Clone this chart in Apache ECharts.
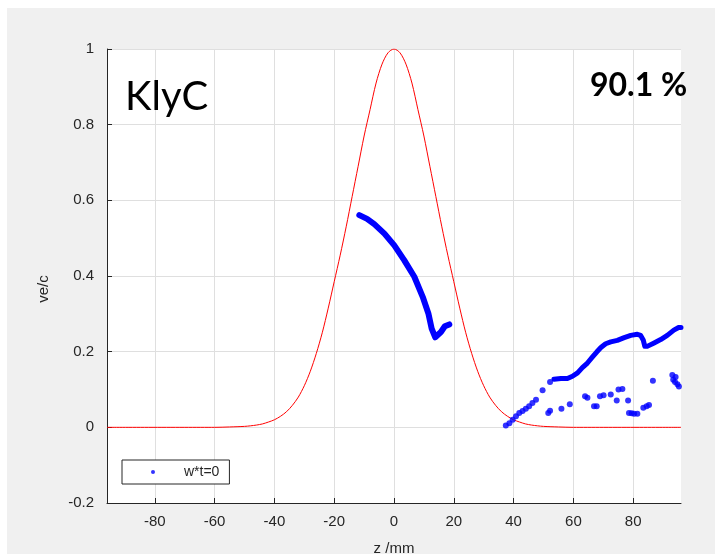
<!DOCTYPE html>
<html>
<head>
<meta charset="utf-8">
<script src="https://cdn.jsdelivr.net/npm/echarts@6/dist/echarts.min.js"></script>
<style>
  html, body { margin: 0; padding: 0; background: #ffffff; }
  #figure { position: absolute; left: 7px; top: 8px; width: 708px; height: 546px; background: #f0f0f0; }
  #chart { position: absolute; left: 0; top: 0; width: 715px; height: 554px; }
</style>
</head>
<body>
<div id="figure"></div>
<div id="chart"></div>
<script>
// Axial field profile (normalised), z in mm
const profileZ = [-96, -60, -55, -50, -48, -46, -44, -42, -40, -38, -36, -34, -32, -30, -28, -26, -24, -22, -20, -18, -16, -14, -12, -10, -8, -6, -4, -2, 0,
                  2, 4, 6, 8, 10, 12, 14, 16, 18, 20, 22, 24, 26, 28, 30, 32, 34, 36, 38, 40, 42, 44, 46, 48, 50, 55, 60, 96];
const profileVal = [0, 0, 0.001, 0.0025, 0.004, 0.006, 0.009, 0.014, 0.020, 0.029, 0.041, 0.058, 0.080, 0.110, 0.148, 0.195, 0.250, 0.315, 0.385, 0.455, 0.530, 0.610, 0.690, 0.770, 0.840, 0.910, 0.960, 0.990, 1.0,
                    0.990, 0.960, 0.910, 0.840, 0.770, 0.690, 0.610, 0.530, 0.455, 0.385, 0.315, 0.250, 0.195, 0.148, 0.110, 0.080, 0.058, 0.041, 0.029, 0.020, 0.014, 0.009, 0.006, 0.004, 0.0025, 0.001, 0, 0];

// Electron velocity ve/c at w*t = 0: dense trace inside the gap
const coreZ = [-11.6, -9.0, -6.6, -3.2, 0.1, 3.4, 6.8, 9.6, 11.5, 12.6, 13.8, 15.7, 17.0, 18.5];
const coreV = [0.561, 0.551, 0.537, 0.512, 0.481, 0.442, 0.398, 0.345, 0.301, 0.261, 0.238, 0.252, 0.267, 0.272];

// Dense trace downstream
const tailZ = [53.5, 55.8, 58.0, 59.7, 61.4, 63.0, 64.7, 66.4, 67.8, 69.2, 70.8, 72.5, 74.7, 77.0, 79.2, 81.4, 82.5, 83.4, 83.9, 84.7, 87.0, 89.2, 91.4, 93.6, 95.2, 96.0];
const tailV = [0.127, 0.129, 0.129, 0.135, 0.144, 0.158, 0.170, 0.186, 0.199, 0.211, 0.221, 0.226, 0.230, 0.237, 0.243, 0.246, 0.243, 0.230, 0.214, 0.214, 0.223, 0.232, 0.243, 0.257, 0.264, 0.264];

// Individual macro-particles downstream
const dotZ = [37.4, 38.6, 39.7, 40.8, 41.9, 43.0, 44.1, 45.2, 46.3, 47.5, 49.7, 52.2,
              51.6, 52.2, 56.0, 58.8, 63.9, 64.7, 66.9, 67.8, 68.9, 70.1, 72.5, 74.5, 75.1, 76.4, 78.3,
              78.6, 79.5, 80.3, 81.4, 83.4, 84.5, 85.3, 86.6, 93.1, 93.4, 94.0, 94.8, 95.3, 94.2];
const dotV = [0.005, 0.011, 0.020, 0.029, 0.038, 0.043, 0.049, 0.056, 0.064, 0.073, 0.098, 0.120,
              0.038, 0.044, 0.049, 0.061, 0.082, 0.078, 0.056, 0.056, 0.082, 0.085, 0.087, 0.071, 0.100, 0.101, 0.071,
              0.038, 0.037, 0.036, 0.036, 0.052, 0.056, 0.059, 0.123, 0.138, 0.126, 0.120, 0.114, 0.108, 0.133];

const xTicks = [-80, -60, -40, -20, 0, 20, 40, 60, 80];
const seriesName = 'w*t=0';
const tagText = 'KlyC';
const effText = '90.1 %';

const pairs = (xs, ys) => xs.map((x, i) => [x, ys[i]]);
const ink = '#262626';
const gridCol = '#dfdfdf';
const sans = '"Liberation Sans", Arial, sans-serif';

const chart = echarts.init(document.getElementById('chart'), null, { renderer: 'canvas' });
chart.setOption({
  backgroundColor: 'transparent',
  animation: false,
  grid: { left: 107, right: 34, top: 49, bottom: 51, show: true, backgroundColor: '#ffffff', borderWidth: 0,
          outerBoundsMode: 'none', containLabel: false },
  xAxis: {
    type: 'value', min: -96, max: 96,
    axisLine: { show: true, onZero: false, lineStyle: { color: ink, width: 1 } },
    axisTick: { show: true, inside: true, length: 5, customValues: xTicks, lineStyle: { color: ink } },
    axisLabel: { customValues: xTicks, color: ink, fontSize: 15, fontFamily: sans, margin: 11 },
    splitLine: { show: true, lineStyle: { color: gridCol, width: 1 } },
    name: 'z /mm', nameLocation: 'middle', nameGap: 38,
    nameTextStyle: { color: ink, fontSize: 15, fontFamily: sans }
  },
  yAxis: {
    type: 'value', min: -0.2, max: 1, interval: 0.2,
    axisLine: { show: true, onZero: false, lineStyle: { color: ink, width: 1 } },
    axisTick: { show: true, inside: true, length: 5, lineStyle: { color: ink } },
    axisLabel: { color: ink, fontSize: 15, fontFamily: sans, margin: 13,
                 formatter: v => String(Number(v.toFixed(1))) },
    splitLine: { show: true, lineStyle: { color: gridCol, width: 1 } }
  },
  legend: {
    show: true, left: 122, top: 460,
    data: [{ name: seriesName, icon: 'circle' }],
    itemWidth: 4, itemHeight: 4,
    padding: [5, 10, 5, 29],
    backgroundColor: '#ffffff', borderColor: ink, borderWidth: 1, borderRadius: 0,
    textStyle: { color: ink, fontSize: 14, fontFamily: sans, padding: [0, 0, 0, 24] }
  },
  graphic: [
    { type: 'text', left: 125, top: 77, z: 10,
      style: { text: tagText, fill: '#000', font: '40px Lato, "Open Sans", sans-serif' } },
    { type: 'text', left: 590, top: 70, z: 10,
      style: { text: effText, fill: '#000', font: 'bold 32px Lato, "Open Sans", sans-serif' } },
    { type: 'text', x: 44, y: 289, rotation: Math.PI / 2, z: 10,
      style: { text: 've/c', fill: ink, font: '15px "Liberation Sans", Arial, sans-serif', align: 'center', verticalAlign: 'middle' } }
  ],
  series: [
    { name: 'field', type: 'line', data: pairs(profileZ, profileVal), showSymbol: false, symbol: 'none', smooth: 0.3,
      lineStyle: { color: '#ff0000', width: 1 }, silent: true, z: 2 },
    { name: 'core', type: 'line', data: pairs(coreZ, coreV), showSymbol: false, symbol: 'none',
      lineStyle: { color: '#0000ff', width: 6, cap: 'round', join: 'round' }, silent: true, z: 3 },
    { name: 'tail', type: 'line', data: pairs(tailZ, tailV), showSymbol: false, symbol: 'none',
      lineStyle: { color: '#0000ff', width: 5, cap: 'round', join: 'round' }, silent: true, z: 3 },
    { name: seriesName, type: 'scatter', data: pairs(dotZ, dotV), symbol: 'circle', symbolSize: 6,
      itemStyle: { color: '#0000ff' }, z: 4 }
  ]
});
</script>
</body>
</html>
